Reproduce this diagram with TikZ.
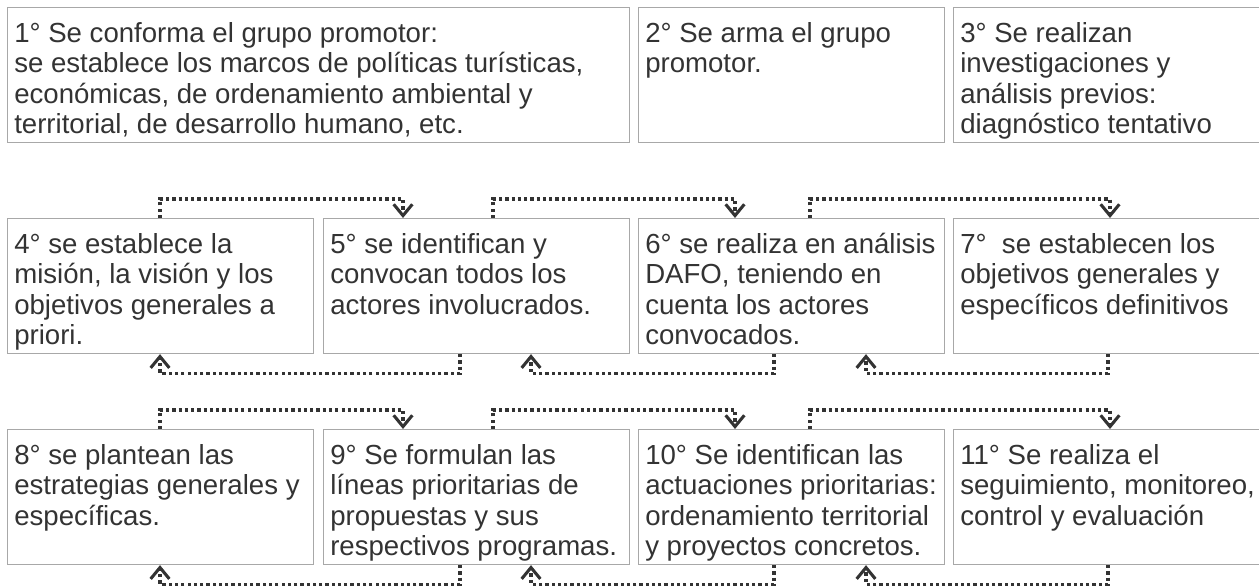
\documentclass[tikz,border=0pt]{standalone}
\usepackage{fontspec}
\setmainfont{Liberation Sans}
\usetikzlibrary{arrows.meta, calc}

\definecolor{boxgray}{HTML}{A8A8A8}
\definecolor{textgray}{HTML}{333333}
\definecolor{linegray}{HTML}{333333}

% cuerpo de texto de cada paso, alineado arriba, sin cortes de línea automáticos
\newcommand{\stepbody}[2]{\parbox[c][80.4pt][t]{#1}{\begin{tabular}{@{}l@{}}#2\end{tabular}}}

\begin{document}
\begin{tikzpicture}[
		x=0.75pt, y=-0.75pt,
		stepbox/.style = {draw=boxgray, line width=0.9pt, anchor=north west, inner xsep=5pt, inner ysep=10.4pt, text=textgray, font=\fontsize{20.7pt}{22.7pt}\selectfont},
		flow/.style = {draw=linegray, line width=2.4pt, dash pattern=on 2.4pt off 2.3pt, -{Straight Barb[length=8.5pt, width=14pt, line width=2.3pt]}}
		]
		\useasboundingbox (0,0) rectangle (1259,586);
		
		% --- FILA 1 ---
		\node [stepbox] (b1) at (7,7)   {\stepbody{456.5pt}{1° Se conforma el grupo promotor:\\ se establece los marcos de políticas turísticas,\\ económicas, de ordenamiento ambiental y\\ territorial, de desarrollo humano, etc.}};
		\node [stepbox] (b2) at (638,7) {\stepbody{219.5pt}{2° Se arma el grupo\\ promotor.}};
		\node [stepbox] (b3) at (953,7) {\stepbody{219.5pt}{3° Se realizan\\ investigaciones y\\ análisis previos:\\ diagnóstico tentativo}};
		
		% --- FILA 2 ---
		\node [stepbox] (b4) at (7,218)   {\stepbody{219.5pt}{4° se establece la\\ misión, la visión y los\\ objetivos generales a\\ priori.}};
		\node [stepbox] (b5) at (323,218) {\stepbody{219.5pt}{5° se identifican y\\ convocan todos los\\ actores involucrados.}};
		\node [stepbox] (b6) at (638,218) {\stepbody{219.5pt}{6° se realiza en análisis\\ DAFO, teniendo en\\ cuenta los actores\\ convocados.}};
		\node [stepbox] (b7) at (953,218) {\stepbody{219.5pt}{7°\ \ se establecen los\\ objetivos generales y\\ específicos definitivos}};
		
		% --- FILA 3 ---
		\node [stepbox] (b8)  at (7,429)   {\stepbody{219.5pt}{8° se plantean las\\ estrategias generales y\\ específicas.}};
		\node [stepbox] (b9)  at (323,429) {\stepbody{219.5pt}{9° Se formulan las\\ líneas prioritarias de\\ propuestas y sus\\ respectivos programas.}};
		\node [stepbox] (b10) at (638,429) {\stepbody{219.5pt}{10° Se identifican las\\ actuaciones prioritarias:\\ ordenamiento territorial\\ y proyectos concretos.}};
		\node [stepbox] (b11) at (953,429) {\stepbody{219.5pt}{11° Se realiza el\\ seguimiento, monitoreo,\\ control y evaluación}};
		
		% --- CONEXIONES FILA 2 ---
		\draw [flow] ($(b4.north west)+(153,0)$) -- ++(0,-19) -| ($(b5.north west)+(80,0)$);
		\draw [flow] ($(b5.north west)+(170,0)$) -- ++(0,-19) -| ($(b6.north west)+(97,0)$);
		\draw [flow] ($(b6.north west)+(172,0)$) -- ++(0,-19) -| ($(b7.north west)+(157,0)$);
		\draw [flow] ($(b5.south west)+(137,0)$) -- ++(0,19) -| ($(b4.south west)+(153,0)$);
		\draw [flow] ($(b6.south west)+(136,0)$) -- ++(0,19) -| ($(b5.south west)+(208,0)$);
		\draw [flow] ($(b7.south west)+(155,0)$) -- ++(0,19) -| ($(b6.south west)+(228,0)$);
		
		% --- CONEXIONES FILA 3 ---
		\draw [flow] ($(b8.north west)+(153,0)$)  -- ++(0,-19) -| ($(b9.north west)+(80,0)$);
		\draw [flow] ($(b9.north west)+(170,0)$)  -- ++(0,-19) -| ($(b10.north west)+(97,0)$);
		\draw [flow] ($(b10.north west)+(172,0)$) -- ++(0,-19) -| ($(b11.north west)+(157,0)$);
		\draw [flow] ($(b9.south west)+(137,0)$)  -- ++(0,19) -| ($(b8.south west)+(153,0)$);
		\draw [flow] ($(b10.south west)+(136,0)$) -- ++(0,19) -| ($(b9.south west)+(208,0)$);
		\draw [flow] ($(b11.south west)+(155,0)$) -- ++(0,19) -| ($(b10.south west)+(228,0)$);
		
	\end{tikzpicture}
\end{document}
